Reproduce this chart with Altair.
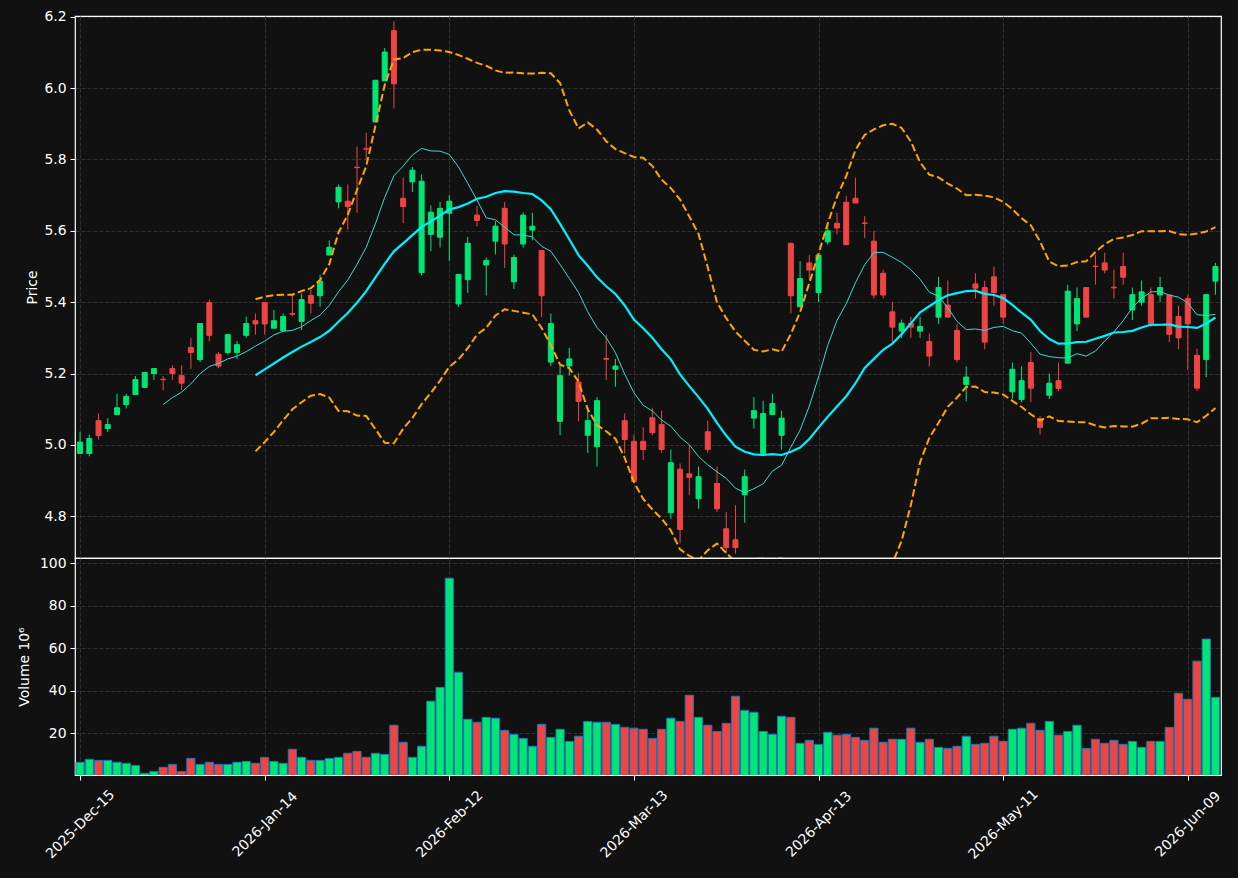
import json
import numpy as np
import pandas as pd
import altair as alt

# ---------------- data ----------------
tick_pos = [0, 20, 40, 60, 80, 100, 120]
tick_labels = ["2025-Dec-15", "2026-Jan-14", "2026-Feb-12", "2026-Mar-13",
               "2026-Apr-13", "2026-May-11", "2026-Jun-09"]

opens = [4.976, 4.976, 5.068, 5.046, 5.085, 5.113, 5.141, 5.161, 5.200, 5.184,
         5.214, 5.194, 5.273, 5.239, 5.399, 5.254, 5.259, 5.259, 5.307, 5.348,
         5.399, 5.327, 5.320, 5.368, 5.346, 5.419, 5.418, 5.532, 5.681, 5.683,
         5.778, 5.830, 5.905, 6.020, 6.161, 5.691, 5.737, 5.483, 5.590, 5.582,
         5.649, 5.395, 5.463, 5.644, 5.504, 5.571, 5.663, 5.457, 5.563, 5.602,
         5.545, 5.232, 5.066, 5.221, 5.176, 5.027, 4.995, 5.242, 5.212, 5.068,
         5.010, 5.010, 5.076, 5.057, 4.810, 4.932, 4.919, 4.849, 5.037, 4.892,
         4.765, 4.734, 4.860, 5.075, 4.976, 5.085, 5.027, 5.565, 5.387, 5.510,
         5.427, 5.569, 5.621, 5.680, 5.691, 5.622, 5.571, 5.481, 5.373, 5.319,
         5.341, 5.319, 5.290, 5.358, 5.392, 5.321, 5.169, 5.451, 5.441, 5.471,
         5.421, 5.149, 5.127, 5.231, 5.073, 5.139, 5.180, 5.229, 5.339, 5.441,
         5.501, 5.510, 5.442, 5.500, 5.378, 5.400, 5.421, 5.420, 5.420, 5.360,
         5.410, 5.251, 5.239, 5.459]
highs = [5.037, 5.029, 5.088, 5.075, 5.143, 5.143, 5.193, 5.203, 5.214, 5.193,
         5.223, 5.223, 5.300, 5.340, 5.407, 5.260, 5.309, 5.291, 5.360, 5.368,
         5.399, 5.378, 5.368, 5.424, 5.424, 5.434, 5.477, 5.573, 5.730, 5.730,
         5.836, 5.875, 6.022, 6.112, 6.187, 5.749, 5.779, 5.758, 5.671, 5.681,
         5.700, 5.478, 5.583, 5.670, 5.525, 5.627, 5.681, 5.533, 5.651, 5.651,
         5.545, 5.368, 5.221, 5.272, 5.202, 5.098, 5.134, 5.309, 5.241, 5.088,
         5.029, 5.049, 5.104, 5.096, 4.987, 4.948, 4.999, 4.939, 5.068, 4.939,
         4.812, 4.831, 4.931, 5.134, 5.124, 5.143, 5.096, 5.565, 5.515, 5.532,
         5.532, 5.620, 5.651, 5.698, 5.749, 5.641, 5.600, 5.491, 5.400, 5.351,
         5.359, 5.359, 5.312, 5.471, 5.461, 5.339, 5.220, 5.481, 5.460, 5.500,
         5.421, 5.231, 5.220, 5.260, 5.081, 5.200, 5.231, 5.449, 5.441, 5.441,
         5.532, 5.539, 5.491, 5.539, 5.441, 5.461, 5.441, 5.471, 5.420, 5.390,
         5.421, 5.270, 5.421, 5.510]
lows = [4.976, 4.968, 5.015, 5.036, 5.085, 5.102, 5.141, 5.161, 5.182, 5.153,
        5.182, 5.154, 5.213, 5.232, 5.290, 5.215, 5.254, 5.241, 5.300, 5.309,
        5.309, 5.327, 5.320, 5.360, 5.322, 5.368, 5.387, 5.532, 5.663, 5.603,
        5.651, 5.798, 5.905, 6.020, 5.943, 5.622, 5.709, 5.475, 5.543, 5.553,
        5.515, 5.387, 5.426, 5.612, 5.419, 5.534, 5.496, 5.437, 5.553, 5.573,
        5.358, 5.221, 5.027, 5.194, 5.066, 4.978, 4.939, 5.182, 5.163, 4.976,
        4.898, 4.958, 5.027, 4.978, 4.792, 4.724, 4.860, 4.821, 4.978, 4.812,
        4.695, 4.695, 4.782, 5.046, 4.976, 5.085, 4.987, 5.368, 5.387, 5.463,
        5.400, 5.561, 5.590, 5.561, 5.678, 5.580, 5.410, 5.410, 5.283, 5.300,
        5.300, 5.300, 5.220, 5.339, 5.358, 5.231, 5.122, 5.410, 5.268, 5.390,
        5.339, 5.129, 5.120, 5.120, 5.029, 5.129, 5.151, 5.229, 5.319, 5.358,
        5.449, 5.481, 5.410, 5.449, 5.350, 5.390, 5.330, 5.400, 5.288, 5.268,
        5.210, 5.151, 5.190, 5.421]
closes = [5.008, 5.018, 5.026, 5.057, 5.104, 5.136, 5.183, 5.203, 5.214, 5.183,
          5.200, 5.173, 5.259, 5.340, 5.307, 5.221, 5.309, 5.281, 5.340, 5.339,
          5.339, 5.348, 5.360, 5.366, 5.407, 5.397, 5.459, 5.554, 5.722, 5.668,
          5.777, 5.829, 6.022, 6.101, 6.012, 5.668, 5.770, 5.739, 5.652, 5.663,
          5.683, 5.478, 5.565, 5.629, 5.517, 5.613, 5.563, 5.525, 5.644, 5.613,
          5.418, 5.340, 5.194, 5.241, 5.122, 5.068, 5.124, 5.240, 5.221, 5.015,
          4.898, 4.987, 5.034, 4.987, 4.950, 4.763, 4.909, 4.911, 4.987, 4.821,
          4.712, 4.712, 4.911, 5.096, 5.088, 5.116, 5.075, 5.418, 5.466, 5.490,
          5.532, 5.600, 5.608, 5.561, 5.678, 5.621, 5.420, 5.420, 5.330, 5.341,
          5.330, 5.332, 5.249, 5.441, 5.358, 5.239, 5.190, 5.439, 5.288, 5.427,
          5.358, 5.212, 5.180, 5.159, 5.049, 5.173, 5.158, 5.431, 5.410, 5.358,
          5.500, 5.490, 5.440, 5.470, 5.421, 5.429, 5.339, 5.441, 5.310, 5.300,
          5.339, 5.159, 5.421, 5.500]
volumes = [6.4, 7.8, 7.3, 7.3, 6.4, 5.9, 4.9, 1.2, 2.1, 4.0,
           5.4, 2.0, 8.2, 5.4, 6.4, 5.4, 5.4, 6.4, 6.8, 5.9,
           8.7, 6.8, 5.9, 12.5, 8.7, 7.3, 7.3, 8.2, 8.7, 10.6,
           11.5, 8.7, 10.6, 10.1, 23.8, 15.8, 8.7, 13.9, 35.1, 41.6,
           92.9, 48.7, 26.6, 25.2, 27.5, 27.1, 21.4, 19.5, 17.6, 13.9,
           24.2, 18.1, 21.9, 16.2, 18.6, 25.6, 25.2, 25.2, 24.2, 22.8,
           22.4, 21.9, 17.6, 21.9, 27.1, 25.6, 37.9, 27.5, 23.8, 20.9,
           24.7, 37.4, 30.8, 29.9, 20.9, 19.5, 28.0, 27.5, 15.3, 16.7,
           14.8, 20.5, 19.1, 19.5, 18.1, 16.7, 22.4, 15.8, 17.2, 17.2,
           22.4, 15.8, 17.2, 13.4, 12.9, 13.9, 18.6, 14.8, 15.3, 18.6,
           16.2, 21.9, 22.4, 24.7, 21.4, 25.6, 19.1, 20.9, 23.8, 12.9,
           17.2, 15.3, 16.7, 14.8, 16.2, 13.4, 16.2, 16.2, 22.8, 38.8,
           36.0, 53.9, 64.3, 36.9]

# ---------------- styling ----------------
BG = "#111111"
GRID = "#3a3a3a"
UP_C, DOWN_C = "#00e676", "#ef4444"
VUP_C, VDOWN_C = "#00ff88", "#ff4444"
FONT = "DejaVu Sans"
FS = 13.9

n = len(closes)
df = pd.DataFrame({"i": list(range(n)), "open": opens, "high": highs,
                   "low": lows, "close": closes, "volume": volumes})
df["dir"] = np.where(df["close"] >= df["open"], "up", "down")
c = df["close"]
df["mav10"] = c.rolling(10).mean()
df["mav20"] = c.rolling(20).mean()
sd = c.rolling(20).std(ddof=0)
df["upper"] = df["mav20"] + 2 * sd
df["lower"] = df["mav20"] - 2 * sd

xs = alt.Scale(domain=[-0.55, 123.6], nice=False, zero=False, padding=0)
ys = alt.Scale(domain=[4.683, 6.202], nice=False, zero=False, padding=0)
vs = alt.Scale(domain=[0.4, 102.4], nice=False, zero=False, padding=0)
cscale = alt.Scale(domain=["up", "down"], range=[UP_C, DOWN_C])
vscale = alt.Scale(domain=["up", "down"], range=[VUP_C, VDOWN_C])

base = alt.Chart(df)

x_price = alt.X("i:Q", scale=xs,
                axis=alt.Axis(values=tick_pos, labels=False, ticks=False,
                              domain=False, grid=True, title=None,
                              minExtent=0, maxExtent=0, labelPadding=0, offset=0))
y_axis = alt.Axis(values=[4.8, 5.0, 5.2, 5.4, 5.6, 5.8, 6.0, 6.2], format=".1f",
                  title="Price", domain=False, grid=True, titlePadding=4)

wick = base.mark_rule(strokeWidth=1, clip=True).encode(
    x=x_price,
    y=alt.Y("low:Q", scale=ys, axis=y_axis),
    y2="high:Q",
    color=alt.Color("dir:N", scale=cscale, legend=None),
)
body = base.mark_bar(size=5, strokeWidth=1, clip=True).encode(
    x=alt.X("i:Q", scale=xs),
    y=alt.Y("open:Q", scale=ys),
    y2="close:Q",
    color=alt.Color("dir:N", scale=cscale, legend=None),
    stroke=alt.Stroke("dir:N", scale=cscale, legend=None),
)


def line(field, color, width, dash=None):
    kw = dict(color=color, strokeWidth=width, clip=True)
    if dash:
        kw["strokeDash"] = dash
    return base.mark_line(**kw).encode(
        x=alt.X("i:Q", scale=xs),
        y=alt.Y(f"{field}:Q", scale=ys),
    ).transform_filter(f"isValid(datum.{field})")


upper = line("upper", "#ffa500", 2, [7.5, 3.3])
lower = line("lower", "#ffa500", 2, [7.5, 3.3])
ma10 = line("mav10", "#40d8d0", 1)
ma20 = line("mav20", "#00f0ff", 2.2)

price = alt.layer(wick, body, ma10, ma20, upper, lower).properties(width=1146, height=542)

label_expr = json.dumps(tick_labels) + "[round(datum.value / 20)]"
vol_bars = base.mark_bar(size=8.2, stroke="#1f77b4", strokeWidth=1, clip=True).encode(
    x=alt.X("i:Q", scale=xs,
            axis=alt.Axis(values=tick_pos, labelExpr=label_expr, labelAngle=315,
                          labelAlign="center", labelBaseline="middle",
                          labelPadding=44, labelFlush=False, labelOverlap=False,
                          grid=True, domain=False, title=None)),
    y=alt.Y("volume:Q", scale=vs,
            axis=alt.Axis(values=[20, 40, 60, 80, 100], title="Volume  10⁶",
                          domain=False, grid=True, titlePadding=8)),
    y2=alt.datum(0),
    color=alt.Color("dir:N", scale=vscale, legend=None),
)
volume = vol_bars.properties(width=1146, height=217)

chart = alt.vconcat(price, volume, spacing=0, bounds="flush").properties(
    background=BG,
    padding={"left": 16, "top": 9, "right": 14, "bottom": 19},
).configure_view(
    stroke="#ffffff", strokeWidth=1.2, fill=BG,
).configure_axis(
    labelColor="#ffffff", titleColor="#ffffff", tickColor="#ffffff",
    labelFont=FONT, titleFont=FONT, labelFontSize=FS, titleFontSize=FS,
    titleFontWeight="normal", tickSize=5, labelPadding=4, titlePadding=6,
    gridColor=GRID, gridDash=[4, 2], gridWidth=0.8,
)

chart.save("out.html", embed_options={"renderer": "svg", "actions": False})
